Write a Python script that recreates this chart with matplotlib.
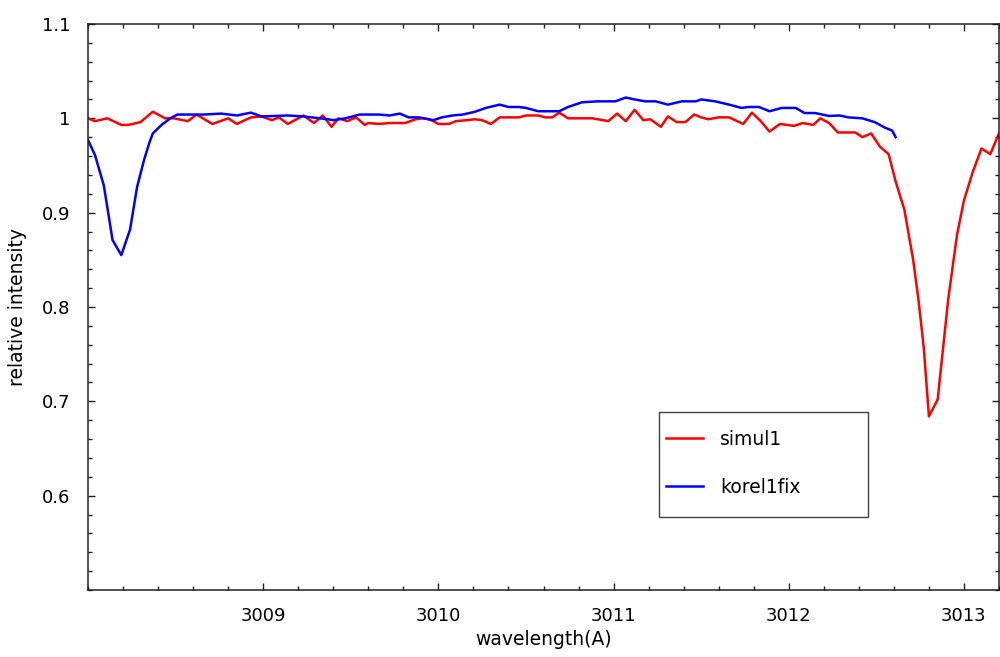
import matplotlib
matplotlib.use('Agg')
import matplotlib.pyplot as plt
from matplotlib.patches import Rectangle
from matplotlib.ticker import MultipleLocator, FormatStrFormatter

# simul1 spectrum
simul_wl = [3008.00, 3008.04, 3008.11, 3008.19, 3008.23, 3008.30, 3008.37, 3008.44,
            3008.49, 3008.57, 3008.62, 3008.71, 3008.80, 3008.85, 3008.93, 3008.99,
            3009.05, 3009.09, 3009.14, 3009.23, 3009.29, 3009.34, 3009.39, 3009.43,
            3009.48, 3009.53, 3009.58, 3009.60, 3009.66, 3009.72, 3009.81, 3009.87,
            3009.91, 3009.95, 3010.00, 3010.06, 3010.10, 3010.16, 3010.21, 3010.25,
            3010.30, 3010.35, 3010.46, 3010.50, 3010.57, 3010.61, 3010.65, 3010.69,
            3010.74, 3010.88, 3010.97, 3011.02, 3011.07, 3011.12, 3011.17, 3011.21,
            3011.27, 3011.31, 3011.36, 3011.41, 3011.46, 3011.50, 3011.54, 3011.60,
            3011.66, 3011.74, 3011.79, 3011.84, 3011.89, 3011.95, 3012.03, 3012.08,
            3012.14, 3012.18, 3012.23, 3012.28, 3012.38, 3012.42, 3012.47, 3012.52,
            3012.57, 3012.61, 3012.66, 3012.71, 3012.74, 3012.77, 3012.80, 3012.85,
            3012.88, 3012.91, 3012.96, 3013.00, 3013.05, 3013.10, 3013.15, 3013.20]
simul_int = [1.000, 0.997, 1.000, 0.993, 0.993, 0.996, 1.007, 1.000,
             1.000, 0.997, 1.004, 0.994, 1.000, 0.994, 1.001, 1.002,
             0.998, 1.001, 0.994, 1.003, 0.995, 1.003, 0.991, 1.000,
             0.997, 1.001, 0.993, 0.995, 0.994, 0.995, 0.995, 0.999,
             1.000, 0.999, 0.994, 0.994, 0.997, 0.998, 0.999, 0.998,
             0.994, 1.001, 1.001, 1.003, 1.003, 1.001, 1.001, 1.006,
             1.000, 1.000, 0.997, 1.005, 0.997, 1.009, 0.998, 0.999,
             0.991, 1.002, 0.996, 0.996, 1.004, 1.001, 0.999, 1.001,
             1.001, 0.994, 1.006, 0.997, 0.986, 0.994, 0.992, 0.995,
             0.993, 1.000, 0.995, 0.985, 0.985, 0.980, 0.984, 0.970,
             0.962, 0.933, 0.903, 0.850, 0.808, 0.758, 0.684, 0.702,
             0.755, 0.808, 0.876, 0.913, 0.943, 0.968, 0.962, 0.984]

# korel1fix spectrum
korel_wl = [3008.00, 3008.04, 3008.09, 3008.11, 3008.14, 3008.19, 3008.24, 3008.28,
            3008.32, 3008.35, 3008.37, 3008.42, 3008.47, 3008.51, 3008.57, 3008.66,
            3008.76, 3008.85, 3008.93, 3008.99, 3009.14, 3009.23, 3009.37, 3009.40,
            3009.47, 3009.55, 3009.66, 3009.72, 3009.78, 3009.83, 3009.89, 3009.97,
            3010.02, 3010.08, 3010.14, 3010.21, 3010.27, 3010.35, 3010.40, 3010.46,
            3010.50, 3010.57, 3010.69, 3010.74, 3010.82, 3010.91, 3011.01, 3011.07,
            3011.12, 3011.18, 3011.24, 3011.31, 3011.39, 3011.47, 3011.50, 3011.58,
            3011.66, 3011.73, 3011.77, 3011.83, 3011.89, 3011.96, 3012.04, 3012.09,
            3012.15, 3012.23, 3012.29, 3012.34, 3012.42, 3012.49, 3012.55, 3012.59,
            3012.61]
korel_int = [0.977, 0.961, 0.929, 0.906, 0.871, 0.855, 0.882, 0.927,
             0.956, 0.974, 0.984, 0.993, 1.000, 1.004, 1.004, 1.004,
             1.005, 1.003, 1.006, 1.002, 1.003, 1.002, 0.999, 0.998,
             1.000, 1.004, 1.004, 1.003, 1.005, 1.001, 1.001, 0.998,
             1.001, 1.003, 1.004, 1.007, 1.011, 1.0145, 1.012, 1.012,
             1.011, 1.0075, 1.0075, 1.012, 1.017, 1.018, 1.018, 1.022,
             1.020, 1.018, 1.018, 1.0145, 1.018, 1.018, 1.020, 1.018,
             1.0145, 1.011, 1.012, 1.012, 1.0075, 1.011, 1.011, 1.0056,
             1.0056, 1.0025, 1.003, 1.001, 1.000, 0.996, 0.990, 0.987,
             0.980]

plt.rcParams['font.family'] = ['DejaVu Sans']

fig = plt.figure(figsize=(10, 6.57), dpi=100)
ax = fig.add_axes([0.088, 0.102, 0.911, 0.8615])

ax.plot(simul_wl, simul_int, color='#ff0000', lw=1.8, label='simul1')
ax.plot(korel_wl, korel_int, color='#0000ff', lw=1.8, label='korel1fix')

ax.set_xlim(3008.0, 3013.2)
ax.set_ylim(0.5, 1.1)
ax.set_xticks([3009, 3010, 3011, 3012, 3013])
ax.set_yticks([0.6, 0.7, 0.8, 0.9, 1.0, 1.1])
ax.yaxis.set_major_formatter(FormatStrFormatter('%g'))
ax.xaxis.set_minor_locator(MultipleLocator(0.2))
ax.yaxis.set_minor_locator(MultipleLocator(0.02))
ax.tick_params(which='both', direction='in', top=True, right=True,
               labelsize=13, pad=12.5, width=1, color='#202020')
ax.tick_params(which='major', length=5)
ax.tick_params(which='minor', length=3)
for sp in ax.spines.values():
    sp.set_linewidth(1.1)
    sp.set_color('#202020')

ax.set_xlabel('wavelength(A)', fontsize=13.5, labelpad=3)
ax.set_ylabel('relative intensity', fontsize=13.5, labelpad=11)

# legend box drawn separately so the padding can match the original
ax.add_patch(Rectangle((0.627, 0.129), 0.229, 0.1855, transform=ax.transAxes,
                       facecolor='white', edgecolor='#404040', lw=1.0, zorder=4))
leg = ax.legend(loc='upper left', bbox_to_anchor=(0.627, 0.295),
                fontsize=13.5, handlelength=2.0, handletextpad=0.9,
                labelspacing=1.55, borderpad=0.35, borderaxespad=0,
                frameon=False)
leg.set_zorder(5)

fig.savefig('out.png', dpi=100)
